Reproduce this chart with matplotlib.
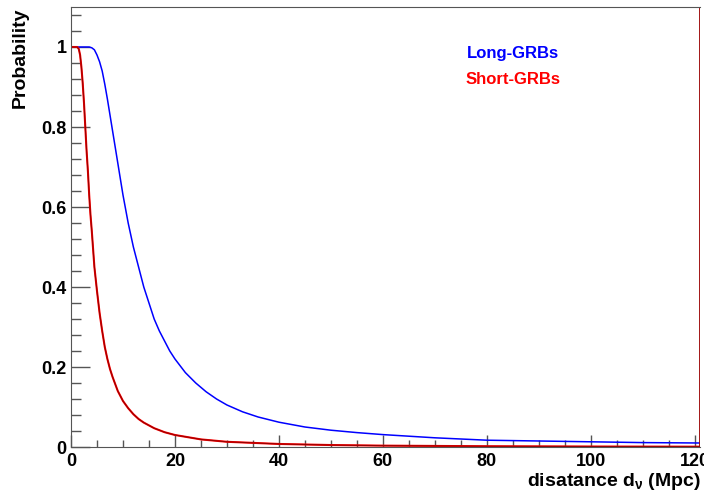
import matplotlib
matplotlib.use('Agg')
import matplotlib.pyplot as plt
from matplotlib.ticker import MultipleLocator

plt.rcParams['font.family'] = ['Liberation Sans', 'DejaVu Sans']
plt.rcParams['font.weight'] = 'bold'
plt.rcParams['mathtext.fontset'] = 'custom'
plt.rcParams['mathtext.rm'] = 'Liberation Sans:bold'
plt.rcParams['mathtext.it'] = 'Liberation Sans:bold'

# values
long_d = [0, 3, 3.5, 4, 4.5, 5, 5.5, 6, 6.5, 7, 7.5, 8, 8.5, 9, 9.5, 10, 11, 12,
          13, 14, 15, 16, 17, 18, 19, 20, 22, 24, 26, 28, 30, 33, 36, 40, 45,
          50, 55, 60, 70, 80, 90, 100, 110, 121]
long_p = [1.0, 1.0, 1.0, 0.998, 0.993, 0.98, 0.963, 0.94, 0.907, 0.87, 0.83,
          0.79, 0.75, 0.71, 0.67, 0.63, 0.56, 0.50, 0.45, 0.40, 0.36, 0.32,
          0.29, 0.265, 0.24, 0.22, 0.186, 0.16, 0.138, 0.12, 0.105, 0.088,
          0.075, 0.062, 0.05, 0.042, 0.036, 0.031, 0.023, 0.017, 0.015, 0.013,
          0.011, 0.01]

short_d = [0, 1.2, 1.5, 1.75, 2, 2.25, 2.5, 2.75, 3, 3.25, 3.5, 3.75, 4, 4.5, 5,
           5.5, 6, 6.5, 7, 7.5, 8, 9, 10, 11, 12, 13, 14, 16, 18, 20, 25, 30,
           40, 50, 60, 80, 100, 121]
short_p = [1.0, 1.0, 0.995, 0.98, 0.95, 0.91, 0.86, 0.80, 0.74, 0.69, 0.63,
           0.58, 0.54, 0.45, 0.39, 0.335, 0.29, 0.25, 0.22, 0.195, 0.175, 0.14,
           0.115, 0.097, 0.082, 0.07, 0.061, 0.047, 0.037, 0.03, 0.019, 0.013,
           0.0076, 0.0049, 0.0034, 0.0019, 0.0012, 0.0008]

fig = plt.figure(figsize=(7.04, 4.95), dpi=100)
ax = fig.add_axes([71 / 704, 48 / 495, 629 / 704, 440 / 495])

ax.plot(long_d, long_p, color='#0000ff', lw=1.1)
ax.plot(short_d, short_p, color='#ff0000', lw=1.5)
ax.plot(short_d, short_p, color='#990000', lw=0.8)
ax.axvline(121, color='#990000', lw=2)

ax.set_xlim(0, 121)
ax.set_ylim(0, 1.1)

ax.xaxis.set_major_locator(MultipleLocator(20))
ax.xaxis.set_minor_locator(MultipleLocator(5))
ax.yaxis.set_major_locator(MultipleLocator(0.2))
ax.yaxis.set_minor_locator(MultipleLocator(0.04))
ax.yaxis.set_major_formatter(plt.FuncFormatter(lambda v, p: f'{v:g}'))

ax.tick_params(axis='both', which='both', direction='in', color='#555555',
               labelsize=13, width=1)
ax.tick_params(axis='x', which='major', length=9, pad=4)
ax.tick_params(axis='x', which='minor', length=5)
ax.tick_params(axis='y', which='major', length=14, pad=3)
ax.tick_params(axis='y', which='minor', length=7)
ax.tick_params(top=False, right=False)

for s in ['left', 'bottom', 'top']:
    ax.spines[s].set_color('#555555')
ax.spines['right'].set_visible(False)

ax.text(0.703, 0.895, 'Long-GRBs', color='#0000ff', fontsize=12,
        fontweight='bold', ha='center', va='center', transform=ax.transAxes)
ax.text(0.703, 0.836, 'Short-GRBs', color='#ff0000', fontsize=12,
        fontweight='bold', ha='center', va='center', transform=ax.transAxes)

fig.text(20 / 704, 1 - 8 / 495, 'Probability', rotation=90, fontsize=14,
         fontweight='bold', ha='center', va='top')
fig.text(701 / 704, 1 - 481 / 495, r'disatance d$_{\nu}$ (Mpc)', fontsize=14,
         fontweight='bold', ha='right', va='center')

fig.savefig('out.png', dpi=100)
